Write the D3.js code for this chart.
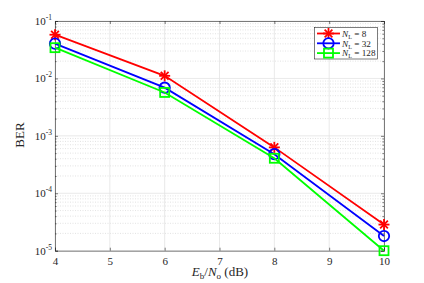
<!DOCTYPE html>
<html>
<head>
<meta charset="utf-8">
<script src="https://cdn.jsdelivr.net/npm/d3@7"></script>
<style>
  body { margin: 0; background: #fff; }
  svg text { font-family: "Liberation Serif", "Times New Roman", serif; fill: #262626; }
</style>
</head>
<body>
<svg id="chart" width="424" height="283"></svg>
<script>
'use strict';

var snr = [4, 6, 8, 10];
var berNL8 = [0.0577, 0.0111, 6.3e-4, 2.85e-5];
var berNL32 = [0.0403, 0.0069, 4.8e-4, 1.8e-5];
var berNL128 = [0.0343, 0.0057, 4.07e-4, 1.0e-5];
var xTicks = [4, 5, 6, 7, 8, 9, 10];
var yExps = [-1, -2, -3, -4, -5];

var series = [
  { nl: '8', values: berNL8, color: '#ff0000', marker: 'star' },
  { nl: '32', values: berNL32, color: '#0000ff', marker: 'circle' },
  { nl: '128', values: berNL128, color: '#00ff00', marker: 'square' }
];

(function () {
  var left = 55, right = 384, top = 21, bottom = 250.7;
  var serif = 'Liberation Serif, Times New Roman, serif';
  var svg = d3.select('#chart');

  var x = d3.scaleLinear().domain([4, 10]).range([left, right]);
  var y = d3.scaleLog().domain([1e-5, 1e-1]).range([bottom, top]);

  var grid = svg.append('g');
  // minor y grid (dotted)
  var minor = [];
  for (var e = -5; e < -1; e++) {
    for (var m = 2; m <= 9; m++) minor.push(m * Math.pow(10, e));
  }
  grid.selectAll('.minor').data(minor).enter().append('line')
    .attr('x1', left).attr('x2', right)
    .attr('y1', function(d) { return y(d); }).attr('y2', function(d) { return y(d); })
    .attr('stroke', '#d0d0d0').attr('stroke-width', 0.6).attr('stroke-dasharray', '1,1.5');
  grid.selectAll('.majy').data(yExps).enter().append('line')
    .attr('x1', left).attr('x2', right)
    .attr('y1', function(d) { return y(Math.pow(10, d)); }).attr('y2', function(d) { return y(Math.pow(10, d)); })
    .attr('stroke', '#e3e3e3').attr('stroke-width', 0.8);
  grid.selectAll('.majx').data(xTicks).enter().append('line')
    .attr('y1', top).attr('y2', bottom)
    .attr('x1', function(d) { return x(d); }).attr('x2', function(d) { return x(d); })
    .attr('stroke', '#e3e3e3').attr('stroke-width', 0.8);

  // axes with ticks on all sides
  var axCol = '#262626';
  var axB = svg.append('g').attr('transform', 'translate(0,' + bottom + ')')
    .call(d3.axisBottom(x).tickValues(xTicks).tickSize(-3).tickPadding(7).tickFormat(d3.format('d')));
  var axT = svg.append('g').attr('transform', 'translate(0,' + top + ')')
    .call(d3.axisTop(x).tickValues(xTicks).tickSize(-3).tickFormat(''));
  var yTickVals = yExps.map(function(d) { return Math.pow(10, d); });
  var axL = svg.append('g').attr('transform', 'translate(' + left + ',0)')
    .call(d3.axisLeft(y).tickValues(yTickVals).tickSize(-3).tickFormat(''));
  var axR = svg.append('g').attr('transform', 'translate(' + right + ',0)')
    .call(d3.axisRight(y).tickValues(yTickVals).tickSize(-3).tickFormat(''));
  var axLm = svg.append('g').attr('transform', 'translate(' + left + ',0)')
    .call(d3.axisLeft(y).tickValues(minor).tickSize(-1.6).tickFormat(''));
  var axRm = svg.append('g').attr('transform', 'translate(' + right + ',0)')
    .call(d3.axisRight(y).tickValues(minor).tickSize(-1.6).tickFormat(''));
  [axB, axT, axL, axR, axLm, axRm].forEach(function(a) {
    a.attr('font-family', serif);
    a.selectAll('path').attr('stroke', axCol).attr('stroke-width', 0.6);
    a.selectAll('line').attr('stroke', axCol).attr('stroke-width', 0.6);
  });
  axLm.select('path').remove();
  axRm.select('path').remove();
  axB.selectAll('text').attr('font-size', 11).attr('font-family', serif).attr('fill', axCol);

  // y tick labels 10^e
  var yl = svg.selectAll('.ylab').data(yExps).enter().append('text')
    .attr('x', left - 3).attr('y', function(d) { return y(Math.pow(10, d)) + 4; })
    .attr('text-anchor', 'end').attr('font-size', 11).attr('font-family', serif);
  yl.append('tspan').text('10');
  yl.append('tspan').attr('dy', -5).attr('font-size', 7.5).text(function(d) { return '-' + Math.abs(d); });

  // axis labels
  svg.append('text').attr('transform', 'translate(24,135) rotate(-90)')
    .attr('text-anchor', 'middle').attr('font-size', 13).attr('font-family', serif).text('BER');
  var xl = svg.append('text').attr('x', 220).attr('y', 276).attr('text-anchor', 'middle')
    .attr('font-size', 13).attr('font-family', serif);
  xl.append('tspan').attr('font-style', 'italic').text('E');
  xl.append('tspan').attr('dy', 2.5).attr('font-size', 9).text('b');
  xl.append('tspan').attr('dy', -2.5).text('/');
  xl.append('tspan').attr('font-style', 'italic').text('N');
  xl.append('tspan').attr('dy', 2.5).attr('font-size', 9).text('o');
  xl.append('tspan').attr('dy', -2.5).text(' (dB)');

  function drawMarker(g, type, color, cx, cy) {
    if (type === 'star') {
      var r = 5.5;
      [0, 45, 90, 135].forEach(function(a) {
        var rad = a * Math.PI / 180;
        g.append('line')
          .attr('x1', cx - r * Math.cos(rad)).attr('y1', cy - r * Math.sin(rad))
          .attr('x2', cx + r * Math.cos(rad)).attr('y2', cy + r * Math.sin(rad))
          .attr('stroke', color).attr('stroke-width', 1.8);
      });
    } else if (type === 'circle') {
      g.append('circle').attr('cx', cx).attr('cy', cy).attr('r', 5.2)
        .attr('fill', 'none').attr('stroke', color).attr('stroke-width', 1.8);
    } else {
      g.append('rect').attr('x', cx - 4.5).attr('y', cy - 4.5).attr('width', 9).attr('height', 9)
        .attr('fill', 'none').attr('stroke', color).attr('stroke-width', 1.8);
    }
  }

  var line = d3.line()
    .x(function(d, i) { return x(snr[i]); })
    .y(function(d) { return y(d); });

  series.forEach(function(s) {
    var g = svg.append('g');
    g.append('path').datum(s.values).attr('d', line)
      .attr('fill', 'none').attr('stroke', s.color).attr('stroke-width', 1.8);
    s.values.forEach(function(v, i) { drawMarker(g, s.marker, s.color, x(snr[i]), y(v)); });
  });

  // legend
  var lg = svg.append('g');
  lg.append('rect').attr('x', 314.5).attr('y', 27.5).attr('width', 63).attr('height', 31.5)
    .attr('fill', '#fff').attr('stroke', '#262626').attr('stroke-width', 0.6);
  series.forEach(function(s, i) {
    var ly = 33.5 + i * 9.8;
    lg.append('line').attr('x1', 317).attr('x2', 340).attr('y1', ly).attr('y2', ly)
      .attr('stroke', s.color).attr('stroke-width', 1.8);
    drawMarker(lg, s.marker, s.color, 328.5, ly);
    var t = lg.append('text').attr('x', 342).attr('y', ly + 3.2).attr('font-size', 9.2).attr('font-family', serif);
    t.append('tspan').attr('font-style', 'italic').text('N');
    t.append('tspan').attr('dy', 2).attr('font-size', 6.2).text('L');
    t.append('tspan').attr('dy', -2).text(' = ' + s.nl);
  });
})();
</script>
</body>
</html>
